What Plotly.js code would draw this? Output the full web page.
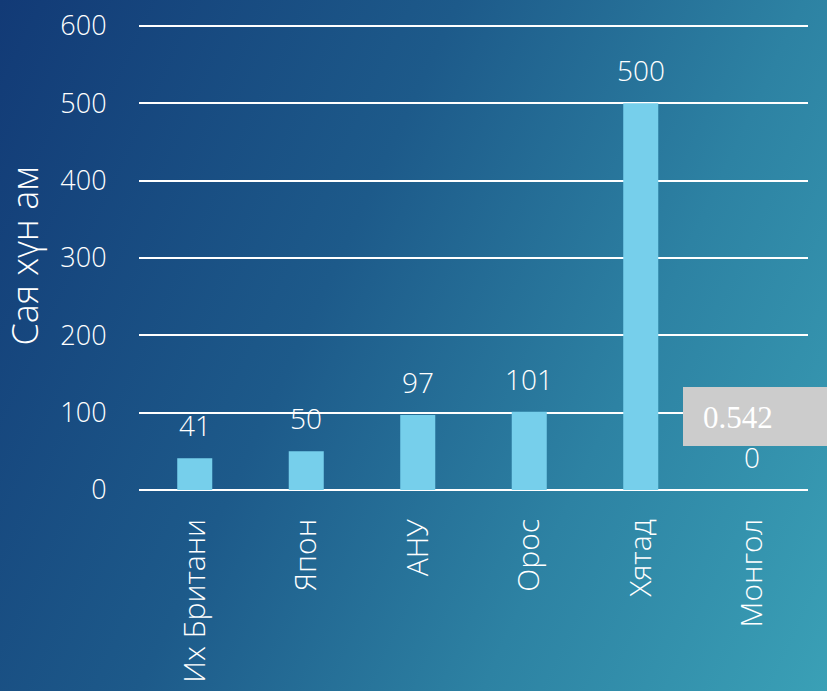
<!DOCTYPE html>
<html>
<head>
<meta charset="utf-8">
<script src="https://cdn.plot.ly/plotly-3.0.1.min.js"></script>
<style>
html,body{margin:0;padding:0;width:827px;height:691px;overflow:hidden;}
body{background:linear-gradient(115deg,#123a76 0%,#1d5a8a 40%,#2d82a3 70%,#3aa0b6 100%);}
#chart{width:827px;height:691px;}
</style>
</head>
<body>
<div id="chart"></div>
<script>
const categories = ["Их Британи", "Япон", "АНУ", "Орос", "Хятад", "Монгол"];
const values = [41, 50, 97, 101, 500, 0];
const yTitle = "Сая хүн ам";
const boxText = "0.542";

const fontFam = "'Open Sans', Lato, sans-serif";
const white = "#ffffff";
const PH = 468; // plot height in px
const PB = 490; // plot bottom in px

const trace = {
  type: "bar",
  x: categories,
  y: values,
  marker: {color: "#76cfeb", line: {width: 0}},
  hoverinfo: "skip"
};

const labelAnnotations = categories.map((c, i) => ({
  x: c, y: values[i], xref: "x", yref: "y",
  text: String(values[i]), showarrow: false,
  yanchor: "bottom", yshift: 12,
  font: {family: fontFam, size: 28, color: white, weight: 300}
}));

const layout = {
  width: 827, height: 691,
  margin: {l: 139, r: 19, t: 22, b: 201},
  paper_bgcolor: "rgba(0,0,0,0)",
  plot_bgcolor: "rgba(0,0,0,0)",
  bargap: 0.686,
  showlegend: false,
  xaxis: {
    type: "category",
    tickangle: -90,
    tickfont: {family: fontFam, size: 30, color: white, weight: 300},
    ticks: "outside", ticklen: 16, tickcolor: "rgba(0,0,0,0)",
    showgrid: false, showline: false, zeroline: false
  },
  yaxis: {
    range: [0, 605],
    tickvals: [0, 100, 200, 300, 400, 500, 600],
    tickfont: {family: fontFam, size: 27, color: white, weight: 300},
    ticks: "outside", ticklen: 26, tickcolor: "rgba(0,0,0,0)",
    showgrid: true, gridcolor: white, gridwidth: 2,
    zeroline: true, zerolinecolor: white, zerolinewidth: 2,
    showline: false,
    title: {text: yTitle, font: {family: fontFam, size: 36, color: white, weight: 300}, standoff: 11}
  },
  shapes: [{
    type: "rect", xref: "paper", yref: "paper",
    x0: (683 - 139) / 669, x1: (830 - 139) / 669,
    y0: (PB - 446) / PH, y1: (PB - 387) / PH,
    fillcolor: "#cccccc", line: {width: 0}, layer: "above"
  }],
  annotations: labelAnnotations.concat([{
    xref: "paper", yref: "paper",
    x: (701 - 139) / 669, y: (PB - 417) / PH,
    xanchor: "left", yanchor: "middle",
    text: boxText, showarrow: false,
    font: {family: "Liberation Serif, serif", size: 31, color: white, weight: 300}
  }])
};

Plotly.newPlot("chart", [trace], layout, {displayModeBar: false, staticPlot: true});
</script>
</body>
</html>
